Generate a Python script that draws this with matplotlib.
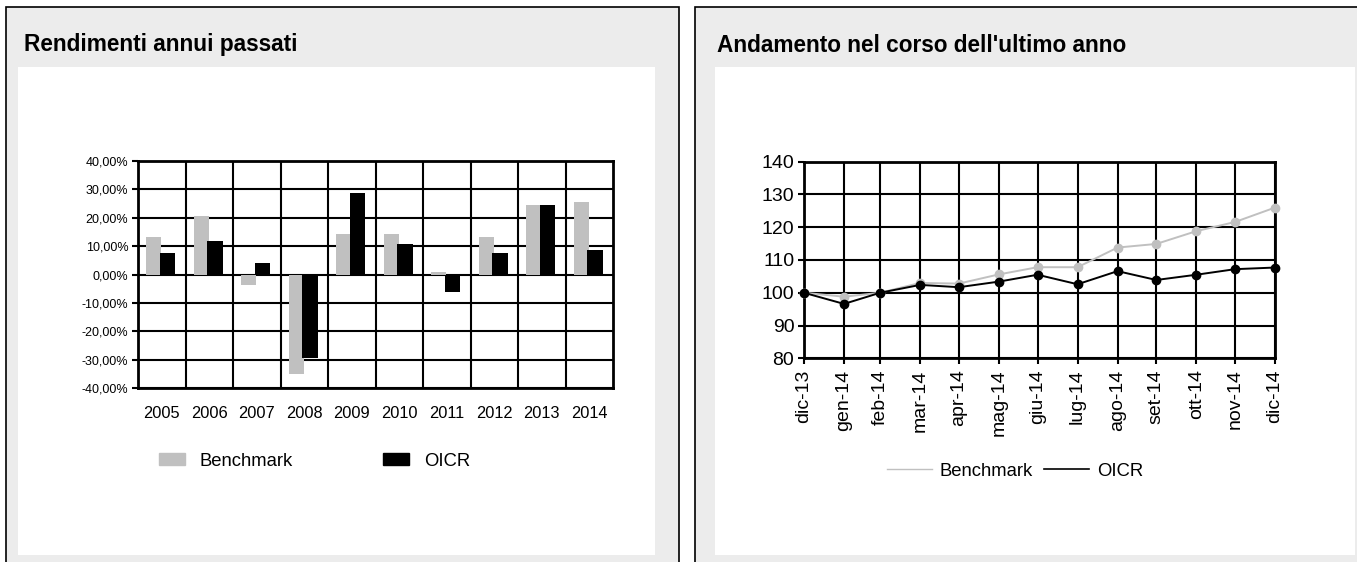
import numpy as np
import pandas as pd
import matplotlib
matplotlib.use('Agg')
import matplotlib.pyplot as plt
from matplotlib.patches import Rectangle, Patch
from matplotlib.lines import Line2D
from matplotlib.ticker import FuncFormatter, MultipleLocator

plt.rcParams['font.family'] = ['Liberation Sans', 'DejaVu Sans']

# data - left chart (annual returns, %)
years = ['2005', '2006', '2007', '2008', '2009', '2010', '2011', '2012', '2013', '2014']
bench_ret = [13.3, 20.7, -3.8, -35.1, 14.2, 14.2, 0.9, 13.3, 24.6, 25.6]
oicr_ret = [7.5, 11.8, 4.2, -29.5, 28.9, 10.7, -6.2, 7.6, 24.6, 8.5]

# data - right chart (index, last year)
dates = ['2013-12-31', '2014-01-31', '2014-02-28', '2014-03-31', '2014-04-30', '2014-05-31',
         '2014-06-30', '2014-07-31', '2014-08-31', '2014-09-30', '2014-10-31', '2014-11-30',
         '2014-12-31']
month_labels = ['dic-13', 'gen-14', 'feb-14', 'mar-14', 'apr-14', 'mag-14', 'giu-14',
                'lug-14', 'ago-14', 'set-14', 'ott-14', 'nov-14', 'dic-14']
bench_idx = [100.0, 98.8, 100.0, 103.0, 102.8, 105.6, 107.8, 107.8, 113.8, 114.9, 118.8, 121.6, 126.0]
oicr_idx = [100.0, 96.6, 100.0, 102.4, 101.7, 103.4, 105.5, 102.6, 106.6, 103.9, 105.5, 107.2, 107.7]

W, H = 1357, 562
GREY = '#c0c0c0'
PANEL = '#ececec'

fig = plt.figure(figsize=(W / 100, H / 100), dpi=100)


def fx(x):
    return x / W


def fy(y):
    return 1 - y / H


def box(x0, y0, x1, y1, **kw):
    fig.patches.append(Rectangle((fx(x0), fy(y1)), fx(x1) - fx(x0), fy(y0) - fy(y1),
                                 transform=fig.transFigure, figure=fig, zorder=-10, **kw))


# panels (behind the axes)
box(6, 7, 679, 600, facecolor=PANEL, edgecolor='black', lw=1.2)
box(18, 67, 655, 555, facecolor='white', edgecolor='none')
box(695, 7, 1400, 600, facecolor=PANEL, edgecolor='black', lw=1.2)
box(715, 67, 1355, 555, facecolor='white', edgecolor='none')

fig.text(fx(24), fy(45), 'Rendimenti annui passati', fontsize=16.3, fontweight='bold', va='center')
fig.text(fx(717), fy(45), "Andamento nel corso dell'ultimo anno", fontsize=16.3, fontweight='bold', va='center')

# ---- left: bar chart
ax1 = fig.add_axes([fx(138), fy(388.3), fx(613) - fx(138), fy(161) - fy(388.3)])
x = np.arange(len(years))
ax1.bar(x - 0.17, bench_ret, width=0.32, color=GREY, zorder=3)
ax1.bar(x + 0.12, oicr_ret, width=0.32, color='black', zorder=3)
ax1.set_xlim(-0.5, len(years) - 0.5)
ax1.set_ylim(-40, 40)
ax1.yaxis.set_major_locator(MultipleLocator(10))
ax1.yaxis.set_major_formatter(FuncFormatter(lambda v, p: f'{v:.2f}'.replace('.', ',') + '%'))
ax1.set_xticks(x)
ax1.set_xticklabels(years)
ax1.set_xticks(np.arange(0.5, len(years) - 0.5), minor=True)
ax1.grid(axis='y', which='major', color='black', lw=1.5, zorder=1)
ax1.grid(axis='x', which='minor', color='black', lw=1.5, zorder=1)
ax1.set_axisbelow(True)
ax1.tick_params(axis='y', labelsize=9, length=4, width=1.5, pad=3)
ax1.tick_params(axis='x', which='both', length=0, labelsize=11.8, pad=13)
for s in ax1.spines.values():
    s.set_linewidth(2)
ax1.legend(handles=[Patch(color=GREY, label='Benchmark'), Patch(color='black', label='OICR')],
           loc='center left', bbox_to_anchor=(fx(159), fy(461)), bbox_transform=fig.transFigure,
           ncol=2, frameon=False, fontsize=13.3, handlelength=1.4, handleheight=0.55,
           handletextpad=0.8, columnspacing=4.9, borderpad=0, borderaxespad=0)

# ---- right: line chart
ax2 = fig.add_axes([fx(804), fy(358.3), fx(1275) - fx(804), fy(161.7) - fy(358.3)])
d = pd.to_datetime(dates)
ax2.plot(d, bench_idx, color=GREY, lw=1.4, marker='o', ms=6, zorder=3, clip_on=False)
ax2.plot(d, oicr_idx, color='black', lw=1.4, marker='o', ms=6, zorder=4, clip_on=False)
ax2.set_xlim(d[0], d[-1])
ax2.set_ylim(80, 140)
ax2.yaxis.set_major_locator(MultipleLocator(10))
ax2.set_xticks(d)
ax2.set_xticklabels(month_labels, rotation=90)
ax2.grid(True, color='black', lw=1.5, zorder=1)
ax2.set_axisbelow(True)
ax2.tick_params(axis='both', labelsize=14, length=4, width=1.5)
ax2.tick_params(axis='x', pad=4)
ax2.tick_params(axis='y', pad=3)
for s in ax2.spines.values():
    s.set_linewidth(2)
ax2.legend(handles=[Line2D([], [], color=GREY, lw=1, label='Benchmark'),
                    Line2D([], [], color='black', lw=1.2, label='OICR')],
           loc='center left', bbox_to_anchor=(fx(887), fy(471)), bbox_transform=fig.transFigure,
           ncol=2, frameon=False, fontsize=13.3, handlelength=2.45, handletextpad=0.4,
           columnspacing=0.6, borderpad=0, borderaxespad=0)

fig.savefig('out.png', dpi=100)
